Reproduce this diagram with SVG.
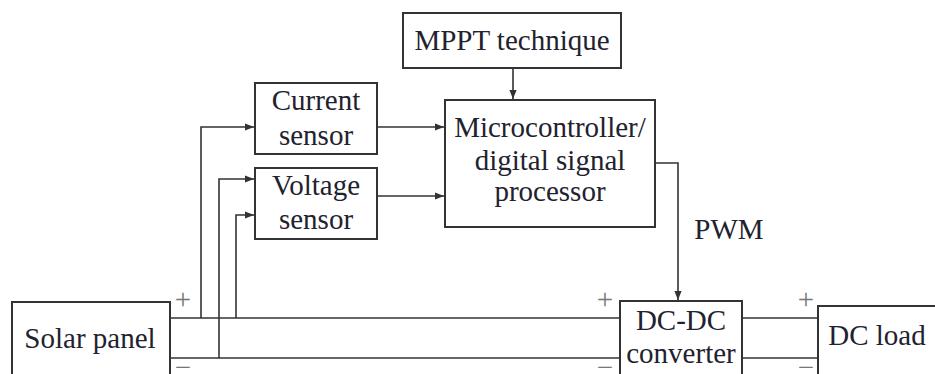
<svg xmlns="http://www.w3.org/2000/svg" width="935" height="374" viewBox="0 0 935 374">
  <style>
    .box { fill: #ffffff; stroke: #333333; stroke-width: 2; }
    .wire { fill: none; stroke: #333333; stroke-width: 1.6; }
    .lbl { font-family: 'Liberation Serif', 'Times New Roman', serif; font-size: 29px; fill: #22222e; text-anchor: middle; }
    .sign { font-family: 'Liberation Serif', 'Times New Roman', serif; font-size: 29px; fill: #777777; text-anchor: middle; }
  </style>
  <defs>
    <marker id="arrow" viewBox="0 0 10 10" refX="10" refY="5" markerWidth="9" markerHeight="9" markerUnits="userSpaceOnUse" orient="auto">
      <path d="M0,1 L10,5 L0,9 Z" fill="#333333"/>
    </marker>
  </defs>

  <rect width="935" height="374" fill="#ffffff"/>

  <!-- connectors -->
  <g id="connectors">
    <!-- power rails -->
    <line class="wire" x1="170" y1="318" x2="620" y2="318"/>
    <line class="wire" x1="170" y1="358" x2="620" y2="358"/>
    <line class="wire" x1="742" y1="318" x2="818" y2="318"/>
    <line class="wire" x1="742" y1="358" x2="818" y2="358"/>
    <!-- sensing taps -->
    <path class="wire" d="M201,318 V127 H254" marker-end="url(#arrow)"/>
    <path class="wire" d="M219,358 V179 H254" marker-end="url(#arrow)"/>
    <path class="wire" d="M236,318 V215 H254" marker-end="url(#arrow)"/>
    <!-- sensor outputs -->
    <line class="wire" x1="377" y1="127" x2="444" y2="127" marker-end="url(#arrow)"/>
    <line class="wire" x1="377" y1="196" x2="444" y2="196" marker-end="url(#arrow)"/>
    <!-- MPPT to controller -->
    <line class="wire" x1="513" y1="68" x2="513" y2="99" marker-end="url(#arrow)"/>
    <!-- PWM to converter -->
    <path class="wire" d="M655,163 H678 V300" marker-end="url(#arrow)"/>
    <text class="lbl" x="729" y="239">PWM</text>
    <!-- polarity marks -->
    <text class="sign" x="183" y="309">+</text>
    <text class="sign" x="183" y="377">−</text>
    <text class="sign" x="605" y="309">+</text>
    <text class="sign" x="605" y="377">−</text>
    <text class="sign" x="806" y="309">+</text>
    <text class="sign" x="806" y="377">−</text>
  </g>

  <g id="solar-panel">
    <rect class="box" x="12" y="302" width="158" height="90"/>
    <text class="lbl" x="90" y="348">Solar panel</text>
  </g>

  <g id="current-sensor">
    <rect class="box" x="255" y="83" width="122" height="71"/>
    <text class="lbl" x="316" y="110">Current</text>
    <text class="lbl" x="316" y="145">sensor</text>
  </g>

  <g id="voltage-sensor">
    <rect class="box" x="255" y="168" width="122" height="71"/>
    <text class="lbl" x="316" y="195">Voltage</text>
    <text class="lbl" x="316" y="229">sensor</text>
  </g>

  <g id="mppt">
    <rect class="box" x="403" y="13" width="218" height="55"/>
    <text class="lbl" x="512" y="50">MPPT technique</text>
  </g>

  <g id="controller">
    <rect class="box" x="445" y="100" width="210" height="127"/>
    <text class="lbl" x="550" y="137">Microcontroller/</text>
    <text class="lbl" x="550" y="170">digital signal</text>
    <text class="lbl" x="550" y="201">processor</text>
  </g>

  <g id="dc-dc">
    <rect class="box" x="620" y="301" width="122" height="90"/>
    <text class="lbl" x="681" y="330">DC-DC</text>
    <text class="lbl" x="681" y="363">converter</text>
  </g>

  <g id="dc-load">
    <rect class="box" x="818" y="306" width="130" height="90"/>
    <text class="lbl" x="877" y="345">DC load</text>
  </g>
</svg>
